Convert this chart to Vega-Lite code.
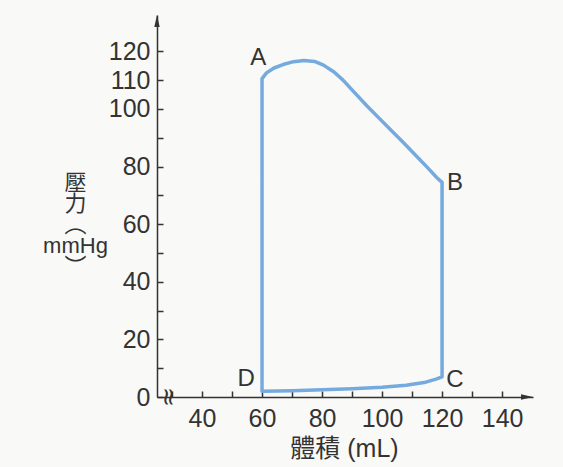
{
  "$schema": "https://vega.github.io/schema/vega-lite/v6.json",
  "autosize": "none",
  "width": 376,
  "height": 382,
  "padding": {"left": 157, "top": 15, "right": 30, "bottom": 70},
  "background": "#f9f9f7",
  "config": {
    "view": {"stroke": null},
    "axis": {
      "domainColor": "#333333",
      "domainWidth": 1.5,
      "tickColor": "#333333",
      "tickWidth": 1.5,
      "tickSize": -6,
      "grid": false,
      "labelFont": "Liberation Sans",
      "labelFontSize": 25,
      "labelColor": "#333333",
      "titleColor": "#333333",
      "titleFontWeight": "normal"
    }
  },
  "datasets": {
    "loop": [
      {"order": 1, "volume": 60, "pressure": 2},
      {"order": 2, "volume": 60, "pressure": 110.5},
      {"order": 3, "volume": 61.5, "pressure": 112.5},
      {"order": 4, "volume": 64, "pressure": 114.2},
      {"order": 5, "volume": 67, "pressure": 115.4},
      {"order": 6, "volume": 70.5, "pressure": 116.4},
      {"order": 7, "volume": 74, "pressure": 116.8},
      {"order": 8, "volume": 77.5, "pressure": 116.5},
      {"order": 9, "volume": 80.5, "pressure": 115.2},
      {"order": 10, "volume": 84, "pressure": 112.8},
      {"order": 11, "volume": 87, "pressure": 110},
      {"order": 12, "volume": 91, "pressure": 105.5},
      {"order": 13, "volume": 95, "pressure": 101},
      {"order": 14, "volume": 99, "pressure": 96.8},
      {"order": 15, "volume": 103, "pressure": 92.6},
      {"order": 16, "volume": 107, "pressure": 88.4},
      {"order": 17, "volume": 111.5, "pressure": 83.6},
      {"order": 18, "volume": 115, "pressure": 79.8},
      {"order": 19, "volume": 118.2, "pressure": 76.2},
      {"order": 20, "volume": 120, "pressure": 74.5},
      {"order": 21, "volume": 120, "pressure": 7},
      {"order": 22, "volume": 118, "pressure": 6.2},
      {"order": 23, "volume": 114, "pressure": 5},
      {"order": 24, "volume": 108, "pressure": 4.1},
      {"order": 25, "volume": 100, "pressure": 3.4},
      {"order": 26, "volume": 90, "pressure": 2.9},
      {"order": 27, "volume": 80, "pressure": 2.5},
      {"order": 28, "volume": 70, "pressure": 2.2},
      {"order": 29, "volume": 60, "pressure": 2}
    ],
    "points": [
      {"label": "A", "volume": 58.7, "pressure": 117.7},
      {"label": "B", "volume": 124.3, "pressure": 74.3},
      {"label": "C", "volume": 124.3, "pressure": 5.9},
      {"label": "D", "volume": 54.7, "pressure": 6.2}
    ],
    "arrows": [
      {"axis": "y", "volume": 25, "pressure": 130.5, "shape": "M0,-1L0.45,1L-0.45,1Z"},
      {"axis": "x", "volume": 148.3, "pressure": 0, "shape": "M1,0L-1,0.45L-1,-0.45Z"}
    ],
    "brk": [
      {"sym": "≈", "volume": 28.7, "pressure": 0}
    ]
  },
  "encoding": {
    "x": {
      "field": "volume",
      "type": "quantitative",
      "scale": {"domain": [25, 150.3], "nice": false, "zero": false},
      "axis": {
        "values": [30, 40, 50, 60, 70, 80, 90, 100, 110, 120, 130, 140],
        "labelExpr": "datum.value % 20 == 0 ? datum.label : ''",
        "labelOverlap": false,
        "labelFlush": false,
        "labelPadding": 15,
        "title": "體積 (mL)",
        "titleFont": "Liberation Sans, Noto Sans CJK TC",
        "titleFontSize": 25,
        "titleX": 187,
        "titleY": 59,
        "titleBaseline": "alphabetic",
        "titleAlign": "center"
      }
    },
    "y": {
      "field": "pressure",
      "type": "quantitative",
      "scale": {"domain": [0, 132.6], "nice": false},
      "axis": {
        "values": [0, 10, 20, 30, 40, 50, 60, 70, 80, 90, 100, 110, 120],
        "labelExpr": "(datum.value % 20 == 0 || datum.value == 110) ? datum.label : ''",
        "labelOverlap": false,
        "labelFlush": false,
        "labelPadding": 13,
        "title": ["壓", "力", "︵", "mmHg", "︶"],
        "titleFont": "Liberation Sans, Noto Sans CJK TC",
        "titleFontSize": 22,
        "titleLineHeight": 21,
        "titleAngle": 0,
        "titleAlign": "center",
        "titleBaseline": "top",
        "titleX": -82,
        "titleY": 157
      }
    }
  },
  "layer": [
    {
      "data": {"name": "loop"},
      "mark": {"type": "line", "color": "#74aade", "strokeWidth": 3.5, "strokeJoin": "round", "strokeCap": "round"},
      "encoding": {
        "order": {"field": "order", "type": "quantitative"}
      }
    },
    {
      "data": {"name": "points"},
      "mark": {"type": "text", "font": "Liberation Sans", "fontSize": 24, "color": "#333333", "align": "center", "baseline": "middle"},
      "encoding": {
        "text": {"field": "label"}
      }
    },
    {
      "data": {"name": "arrows"},
      "mark": {"type": "point", "filled": true, "color": "#333333", "size": 144, "opacity": 1},
      "encoding": {
        "shape": {"field": "shape", "type": "nominal", "scale": null}
      }
    },
    {
      "data": {"name": "brk"},
      "mark": {"type": "text", "font": "DejaVu Sans", "fontSize": 24, "color": "#333333", "angle": 90, "align": "center", "baseline": "middle"},
      "encoding": {
        "text": {"field": "sym"}
      }
    }
  ]
}
